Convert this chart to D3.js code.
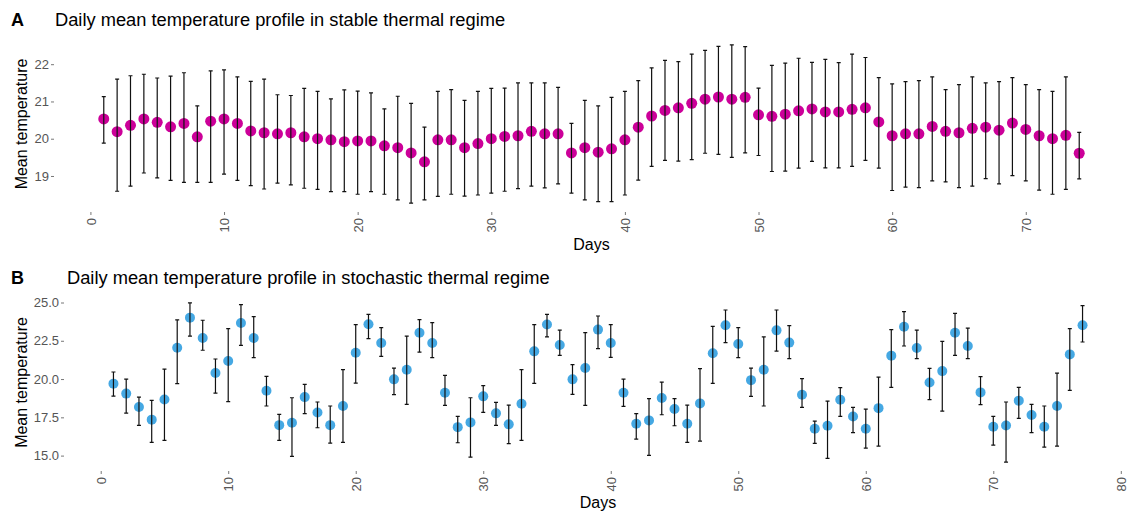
<!DOCTYPE html>
<meta charset="utf-8">
<style>
  body { margin: 0; background: #fff; }
  svg { font-family: "Liberation Sans", Arial, sans-serif; }
</style>
<svg width="1130" height="513"></svg>
<script src="https://cdn.jsdelivr.net/npm/d3@7/dist/d3.min.js"></script>
<script>
	// Panel A: stable thermal regime
	var daysA = d3.range(1, 75);
	var meanA = [20.53, 20.19, 20.36, 20.53, 20.44, 20.32, 20.41, 20.05, 20.47, 20.53,
		20.41, 20.21, 20.16, 20.13, 20.16, 20.05, 20.00, 19.97, 19.92, 19.94,
		19.94, 19.81, 19.76, 19.62, 19.38, 19.97, 19.97, 19.76, 19.87, 20.00,
		20.06, 20.08, 20.20, 20.13, 20.13, 19.62, 19.76, 19.64, 19.73, 19.97,
		20.31, 20.61, 20.76, 20.83, 20.95, 21.06, 21.12, 21.06, 21.11, 20.64,
		20.60, 20.66, 20.75, 20.80, 20.72, 20.72, 20.79, 20.83, 20.45, 20.08,
		20.13, 20.13, 20.33, 20.20, 20.16, 20.28, 20.31, 20.23, 20.42, 20.25,
		20.08, 20.00, 20.09, 19.61];
	var upperA = [21.13, 21.60, 21.69, 21.73, 21.63, 21.68, 21.77, 20.88, 21.82, 21.85,
		21.66, 21.54, 21.60, 21.18, 21.16, 21.35, 21.27, 21.07, 21.31, 21.28,
		21.23, 20.80, 21.14, 20.95, 20.31, 21.27, 21.32, 21.03, 21.27, 21.35,
		21.36, 21.50, 21.50, 21.50, 21.38, 20.41, 21.03, 20.88, 21.11, 21.27,
		21.56, 21.90, 22.10, 22.07, 22.27, 22.37, 22.48, 22.52, 22.47, 21.36,
		21.97, 22.03, 22.16, 22.05, 22.13, 22.04, 22.27, 22.18, 21.64, 21.47,
		21.53, 21.56, 21.66, 21.32, 21.45, 21.66, 21.50, 21.53, 21.64, 21.45,
		21.32, 21.27, 21.66, 20.17];
	var lowerA = [19.88, 18.59, 18.73, 19.08, 18.95, 18.88, 18.83, 18.83, 18.83, 19.05,
		18.88, 18.74, 18.65, 18.81, 18.76, 18.67, 18.64, 18.58, 18.58, 18.51,
		18.58, 18.51, 18.36, 18.27, 18.36, 18.45, 18.51, 18.46, 18.49, 18.54,
		18.59, 18.66, 18.73, 18.68, 18.79, 18.54, 18.36, 18.31, 18.31, 18.49,
		18.89, 19.26, 19.42, 19.40, 19.44, 19.61, 19.58, 19.50, 19.62, 19.55,
		19.12, 19.13, 19.21, 19.39, 19.22, 19.22, 19.26, 19.42, 19.21, 18.61,
		18.70, 18.69, 18.87, 18.84, 18.69, 18.73, 18.93, 18.79, 19.01, 18.87,
		18.62, 18.51, 18.64, 18.92];

	// Panel B: stochastic thermal regime
	var daysB = d3.range(1, 78);
	var meanB = [19.70, 19.05, 18.17, 17.35, 18.67, 22.05, 24.01, 22.68, 20.39, 21.18,
		23.66, 22.68, 19.24, 16.99, 17.15, 18.82, 17.82, 16.99, 18.24, 21.72,
		23.58, 22.35, 19.98, 20.61, 23.03, 22.35, 19.11, 16.86, 17.17, 18.87,
		17.76, 17.04, 18.39, 21.81, 23.56, 22.22, 19.98, 20.72, 23.23, 22.35,
		19.11, 17.08, 17.30, 18.76, 18.04, 17.08, 18.41, 21.68, 23.51, 22.29,
		19.93, 20.61, 23.18, 22.38, 18.98, 16.76, 16.95, 18.65, 17.56, 16.76,
		18.10, 21.53, 23.42, 22.03, 19.78, 20.52, 23.03, 22.16, 19.13, 16.89,
		16.97, 18.59, 17.65, 16.89, 18.24, 21.61, 23.51];
	var upperB = [20.46, 20.00, 18.82, 18.61, 20.65, 23.86, 24.97, 23.84, 21.31, 23.29,
		24.86, 24.08, 20.18, 17.69, 18.78, 19.65, 18.50, 18.24, 20.61, 23.56,
		24.23, 23.36, 20.72, 22.81, 23.88, 23.69, 20.24, 17.56, 18.78, 19.57,
		18.48, 18.30, 20.61, 23.56, 24.23, 23.20, 20.94, 23.03, 24.12, 23.56,
		20.00, 17.74, 18.72, 19.80, 18.72, 18.30, 20.68, 23.44, 24.51, 23.36,
		20.72, 22.75, 24.51, 23.49, 20.03, 17.25, 18.56, 19.44, 18.15, 18.04,
		20.13, 23.23, 24.40, 23.20, 20.70, 22.46, 24.29, 23.33, 20.16, 17.56,
		18.50, 19.46, 18.35, 18.24, 20.39, 23.29, 24.80];
	var lowerB = [18.89, 17.78, 16.97, 15.86, 15.99, 19.70, 22.81, 21.88, 19.08, 18.52,
		22.20, 21.40, 18.24, 15.99, 14.95, 17.74, 16.82, 15.82, 15.86, 19.74,
		22.64, 21.48, 18.98, 18.35, 21.76, 21.40, 18.28, 15.84, 14.90, 17.82,
		16.97, 15.78, 15.99, 19.72, 22.75, 21.55, 19.00, 18.28, 21.99, 21.42,
		18.22, 16.08, 15.01, 17.67, 16.95, 15.86, 15.95, 19.72, 22.38, 21.40,
		18.87, 18.24, 21.83, 21.33, 18.15, 15.80, 14.82, 17.56, 16.50, 15.49,
		15.62, 19.46, 22.16, 21.33, 18.65, 17.91, 21.55, 21.33, 18.33, 15.69,
		14.58, 17.43, 16.50, 15.56, 15.62, 19.26, 22.42];

	var ticksXA = [0, 10, 20, 30, 40, 50, 60, 70];
	var ticksYA = [19, 20, 21, 22];
	var ticksXB = [0, 10, 20, 30, 40, 50, 60, 70, 80];
	var ticksYB = [15, 17.5, 20, 22.5, 25];

	var svg = d3.select("svg");

	function panel(opt) {
		var g = svg.append("g");
		var x = d3.scaleLinear().domain(opt.xDomain).range([opt.left, opt.right]);
		var y = d3.scaleLinear().domain(opt.yDomain).range([opt.bottom, opt.top]);
		var rows = opt.days.map(function(d, i) {
			return {day: d, mean: opt.mean[i], lo: opt.lower[i], hi: opt.upper[i]};
		});

		// tag and title
		g.append("text").attr("x", 11).attr("y", opt.titleY)
			.style("font-size", "18px").style("font-weight", "bold").text(opt.tag);
		g.append("text").attr("x", opt.titleX).attr("y", opt.titleY)
			.style("font-size", "18.3px").text(opt.title);

		// y axis
		var ya = g.append("g").attr("transform", "translate(" + (opt.left - 1) + ",0)")
			.call(d3.axisLeft(y).tickValues(opt.yTicks).tickSize(3).tickPadding(2).tickFormat(opt.yFormat));
		ya.select(".domain").remove();
		ya.selectAll("line").attr("stroke", "#777");
		ya.selectAll("text").attr("fill", "#555").style("font-size", "13px").style("font-family", "inherit");

		// x axis with vertical labels
		var xa = g.append("g").attr("transform", "translate(0," + (opt.bottom + 1) + ")")
			.call(d3.axisBottom(x).tickValues(opt.xTicks).tickSize(3).tickFormat(d3.format("d")));
		xa.select(".domain").remove();
		xa.selectAll("line").attr("stroke", "#777");
		xa.selectAll("text").attr("fill", "#555").style("font-size", "13px").style("font-family", "inherit")
			.attr("text-anchor", "end").attr("transform", "rotate(-90)")
			.attr("x", -6).attr("y", 0).attr("dy", "0.36em");

		// axis titles
		g.append("text").attr("text-anchor", "middle")
			.attr("transform", "translate(27," + ((opt.top + opt.bottom) / 2) + ") rotate(-90)")
			.style("font-size", "16px").text("Mean temperature");
		g.append("text").attr("text-anchor", "middle")
			.attr("x", (opt.left + opt.right) / 2).attr("y", opt.daysY)
			.style("font-size", "16px").text("Days");

		// points
		g.append("g").selectAll("circle").data(rows).join("circle")
			.attr("cx", function(d) { return x(d.day); })
			.attr("cy", function(d) { return y(d.mean); })
			.attr("r", opt.r)
			.attr("fill", opt.color);

		// error bars on top
		var eb = g.append("g").attr("stroke", "#111").attr("stroke-width", 1.2).attr("fill", "none");
		eb.selectAll("path").data(rows).join("path")
			.attr("d", function(d) {
				var cx = x(d.day), t = y(d.hi), b = y(d.lo), w = 2;
				return "M" + (cx - w) + "," + t + "H" + (cx + w) +
					"M" + cx + "," + t + "V" + b +
					"M" + (cx - w) + "," + b + "H" + (cx + w);
			});
	}

	panel({
		tag: "A", title: "Daily mean temperature profile in stable thermal regime",
		titleX: 55, titleY: 26, daysY: 250,
		days: daysA, mean: meanA, lower: lowerA, upper: upperA,
		xDomain: [-2.65, 77.65], yDomain: [18.06, 22.73],
		left: 55, right: 1128, top: 37, bottom: 211,
		xTicks: ticksXA, yTicks: ticksYA, yFormat: d3.format("d"),
		color: "#cc0099", r: 5.5
	});

	panel({
		tag: "B", title: "Daily mean temperature profile in stochastic thermal regime",
		titleX: 67, titleY: 284, daysY: 508,
		days: daysB, mean: meanB, lower: lowerB, upper: upperB,
		xDomain: [-2.8, 80.8], yDomain: [14.06, 25.49],
		left: 65, right: 1131, top: 295, bottom: 470,
		xTicks: ticksXB, yTicks: ticksYB, yFormat: d3.format(".1f"),
		color: "#45a8e3", r: 5
	});
</script>
